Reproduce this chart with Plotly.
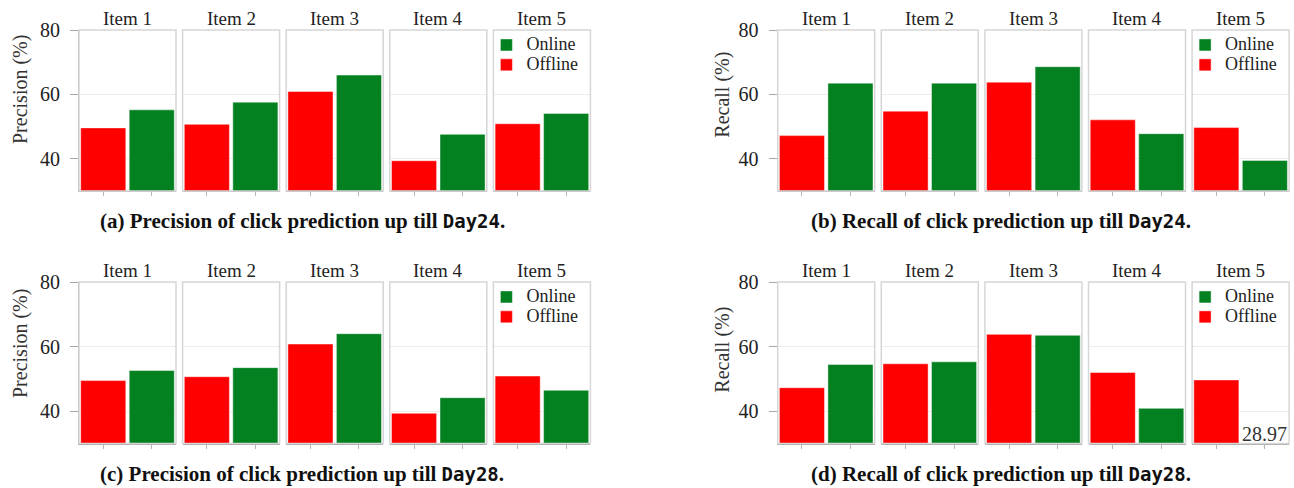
import plotly.graph_objects as go

# ---- data -------------------------------------------------------------
items = ["Item 1", "Item 2", "Item 3", "Item 4", "Item 5"]
modes = ["Offline", "Online"]

prec_day24_offline = [49.6, 50.7, 60.9, 39.4, 50.9]
prec_day24_online = [55.2, 57.6, 66.0, 47.6, 54.1]
recall_day24_offline = [47.2, 54.8, 63.8, 52.1, 49.7]
recall_day24_online = [63.5, 63.5, 68.6, 47.8, 39.5]
prec_day28_offline = [49.5, 50.7, 60.8, 39.4, 50.9]
prec_day28_online = [52.6, 53.5, 64.0, 44.2, 46.5]
recall_day28_offline = [47.3, 54.7, 63.8, 52.0, 49.7]
recall_day28_online = [54.5, 55.3, 63.5, 40.9, 28.97]

y_ticks = [40, 60, 80]
y_range = [30, 80]

panels = [
    dict(offline=prec_day24_offline, online=prec_day24_online, ytitle="Precision (%)",
         caption="(a) Precision of click prediction up till ", day="Day24"),
    dict(offline=recall_day24_offline, online=recall_day24_online, ytitle="Recall (%)",
         caption="(b) Recall of click prediction up till ", day="Day24"),
    dict(offline=prec_day28_offline, online=prec_day28_online, ytitle="Precision (%)",
         caption="(c) Precision of click prediction up till ", day="Day28"),
    dict(offline=recall_day28_offline, online=recall_day28_online, ytitle="Recall (%)",
         caption="(d) Recall of click prediction up till ", day="Day28"),
]

# ---- styling / geometry (pixels) ---------------------------------------
W, H = 1294, 488
RED = "#ff0000"
GREEN = "#038020"
SERIF = "Liberation Serif"
FRAME = "#d6d6d6"
AXIS = "#a8a8a8"
GRID = "#f1ebe6"

FACET_W = 97.0
FACET_PITCH = 103.6
PANEL_X0 = [79.0, 777.7, 79.0, 777.7]
ROW_TOP = [30.0, 30.0, 282.0, 282.0]
ROW_BOTTOM = [191.0, 191.0, 443.6, 443.6]
YTITLE_X = [20.0, 721.7, 20.0, 721.7]
YTITLE_Y = [90.0, 95.0, 344.0, 350.0]
CAPTION_X = [302.0, 1001.0, 302.0, 1001.0]
CAPTION_Y = [221.0, 221.0, 474.0, 474.0]
LEGEND_NAMES = ["legend", "legend2", "legend3", "legend4"]


def px_x(v):
    return v / W


def px_y(v):
    return 1 - v / H


fig = go.Figure()
layout = dict(
    template="none",
    width=W, height=H,
    margin=dict(l=0, r=0, t=0, b=0, autoexpand=False),
    paper_bgcolor="white", plot_bgcolor="white",
    barmode="overlay", bargap=0.07,
    font=dict(family=SERIF, size=18, color="#222"),
    shapes=[], annotations=[],
)

for p, panel in enumerate(panels):
    y_dom = [px_y(ROW_BOTTOM[p]), px_y(ROW_TOP[p])]
    for i, item in enumerate(items):
        k = p * 5 + i + 1
        xa = "x" if k == 1 else f"x{k}"
        ya = "y" if k == 1 else f"y{k}"
        x0 = PANEL_X0[p] + i * FACET_PITCH
        first = i == 0

        for mode, values, color, rank in (
            ("Offline", panel["offline"], RED, 2),
            ("Online", panel["online"], GREEN, 1),
        ):
            fig.add_trace(go.Bar(
                x=[mode], y=[values[i]],
                name=f"<span style='font-size:18px'>{mode}</span>",
                marker=dict(color=color, line=dict(color="rgba(255,255,255,0.45)", width=1)),
                xaxis=xa, yaxis=ya,
                legend=LEGEND_NAMES[p], legendrank=rank,
                showlegend=(i == 4),
                hovertemplate=f"{item} {mode}: %{{y}}<extra></extra>",
            ))

        layout[f"xaxis{k}"] = dict(
            domain=[px_x(x0), px_x(x0 + FACET_W)], anchor=ya,
            type="category", categoryorder="array", categoryarray=modes,
            range=[-0.5, 1.5], showticklabels=False,
            ticks="outside", ticklen=4, tickcolor="#b5b5b5", tickwidth=1,
            showline=True, linecolor=AXIS, linewidth=1.2,
            showgrid=False, zeroline=False, fixedrange=True, automargin=False,
        )
        layout[f"yaxis{k}"] = dict(
            domain=y_dom, anchor=xa, range=y_range, tickvals=y_ticks,
            showgrid=True, gridcolor=GRID, gridwidth=1, zeroline=False,
            showline=first, linecolor=AXIS, linewidth=1.2,
            ticks="outside" if first else "", ticklen=8, tickcolor=AXIS,
            showticklabels=first, ticklabelstandoff=6,
            tickfont=dict(family=SERIF, size=20, color="#222"),
            fixedrange=True, automargin=False,
        )

        # light frame around each facet
        layout["shapes"].append(dict(
            type="rect", xref=f"{xa} domain", yref=f"{ya} domain",
            x0=0, x1=1, y0=0, y1=1, line=dict(color=FRAME, width=1.5), layer="above",
        ))
        # facet header
        layout["annotations"].append(dict(
            text=item, xref=f"{xa} domain", yref=f"{ya} domain",
            x=0.5, y=1, xanchor="center", yanchor="middle", yshift=12,
            showarrow=False, font=dict(family=SERIF, size=19, color="#222"),
        ))

    # values that fall below the axis minimum are written at the bottom of their slot
    for mode, values in (("Offline", panel["offline"]), ("Online", panel["online"])):
        for i, v in enumerate(values):
            if v < y_range[0]:
                k = p * 5 + i + 1
                layout["annotations"].append(dict(
                    text=f"{v:.2f}", xref=f"x{k}", yref=f"y{k}",
                    x=mode, y=y_range[0], xanchor="center", yanchor="bottom",
                    yshift=-3, showarrow=False,
                    font=dict(family=SERIF, size=20, color="#333"),
                ))

    # y-axis title of the panel
    layout["annotations"].append(dict(
        text=panel["ytitle"], xref="paper", yref="paper",
        x=px_x(YTITLE_X[p]), y=px_y(YTITLE_Y[p]), xanchor="center", yanchor="middle",
        textangle=-90, showarrow=False,
        font=dict(family=SERIF, size=20, color="#333"),
    ))

    # legend inside the last facet
    legend_left = PANEL_X0[p] + 4 * FACET_PITCH - 7
    layout[LEGEND_NAMES[p]] = dict(
        x=px_x(legend_left), y=px_y(ROW_TOP[p]), xanchor="left", yanchor="top",
        bgcolor="rgba(0,0,0,0)", borderwidth=0, traceorder="normal",
        font=dict(family=SERIF, size=13, color="#222"),
        itemclick=False, itemdoubleclick=False,
    )

    # caption below each panel
    layout["annotations"].append(dict(
        text=(f"<b>{panel['caption']}"
              f"<span style='font-family:DejaVu Sans Mono;font-size:19px'>{panel['day']}</span>.</b>"),
        xref="paper", yref="paper", x=px_x(CAPTION_X[p]), y=px_y(CAPTION_Y[p]),
        xanchor="center", yanchor="middle", showarrow=False,
        font=dict(family=SERIF, size=21, color="#111"),
    ))

fig.update_layout(**layout)
fig.write_html("out.html")
